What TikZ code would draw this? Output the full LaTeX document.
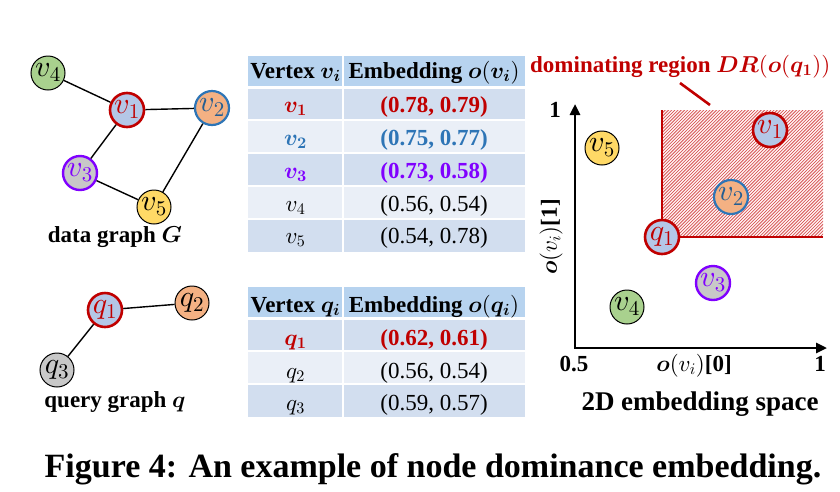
\documentclass[tikz,border=0pt]{standalone}
\usepackage{amsmath}
\usepackage[no-math]{fontspec}
\setmainfont{Liberation Serif}
\DeclareFontFamily{OML}{cmm}{\skewchar\font'177}
\DeclareFontShape{OML}{cmm}{m}{it}{<-> cmmi10}{}
\DeclareFontShape{OML}{cmm}{b}{it}{<-> cmmib10}{}
\DeclareFontShape{OT1}{cmr}{m}{n}{<-> cmr10}{}
\DeclareFontShape{OT1}{cmr}{bx}{n}{<-> cmbx10}{}
\usetikzlibrary{arrows.meta}
\definecolor{dred}{HTML}{C00000}
\definecolor{dblue}{HTML}{2E75B6}
\definecolor{dpurp}{HTML}{8000FF}
\definecolor{nblue}{HTML}{B4C7E7}
\definecolor{norange}{HTML}{F4B183}
\definecolor{ngrey}{HTML}{C8C8C8}
\definecolor{ngreen}{HTML}{A9D18E}
\definecolor{nyellow}{HTML}{FFD966}
\definecolor{thead}{HTML}{B7D3EF}
\definecolor{tdark}{HTML}{D2DEEF}
\definecolor{tlight}{HTML}{EAEFF7}
\tikzset{
  gnode/.style={circle, minimum size=34pt, inner sep=0pt, font=\fontsize{30}{30}\selectfont},
  plain/.style={draw=black, line width=1pt},
  redb/.style={draw=dred, line width=2.6pt, text=dred},
  blueb/.style={draw=dblue, line width=2.2pt, text=dblue!80!black},
  purpb/.style={draw=dpurp, line width=2.4pt, text=dpurp},
  edge/.style={draw=black, line width=1.4pt},
  tx/.style={anchor=base, inner sep=0pt, font=\fontsize{23}{26}\selectfont},
  axisline/.style={draw=black, line width=2.6pt, {Triangle[length=11pt,width=10pt]}-{Triangle[length=11pt,width=10pt]}},
  sep/.style={draw=white, line width=2pt}
}
\begin{document}
\begin{tikzpicture}[x=1pt,y=-1pt]
\useasboundingbox (0,0) rectangle (840,491);

% ---------- data graph G ----------
\node[gnode, plain, fill=ngreen] (v4) at (48,73) {$v_4$};
\node[gnode, redb, fill=nblue] (v1) at (127,110) {$v_1$};
\node[gnode, blueb, fill=norange] (v2) at (212,108) {$v_2$};
\node[gnode, purpb, fill=ngrey] (v3) at (80,173) {$v_3$};
\node[gnode, plain, fill=nyellow] (v5) at (154,207) {$v_5$};
\draw[edge] (v4) -- (v1);
\draw[edge] (v1) -- (v2);
\draw[edge] (v1) -- (v3);
\draw[edge] (v3) -- (v5);
\draw[edge] (v5) -- (v2);
\node[tx] (lG) at (115,242) {\textbf{data graph} $\boldsymbol{G}$};

% ---------- query graph q ----------
\node[gnode, redb, fill=nblue] (q1) at (105,310) {$q_1$};
\node[gnode, plain, fill=norange] (q2) at (192,303) {$q_2$};
\node[gnode, plain, fill=ngrey] (q3) at (57,370) {$q_3$};
\draw[edge] (q1) -- (q2);
\draw[edge] (q1) -- (q3);
\node[tx] (lq) at (115,407) {\textbf{query graph} $\boldsymbol{q}$};

% ---------- table 1 ----------
\fill[thead] (248,56) rectangle (525,87);
\fill[tdark] (248,87) rectangle (525,120);
\fill[tlight] (248,120) rectangle (525,153);
\fill[tdark] (248,153) rectangle (525,186);
\fill[tlight] (248,186) rectangle (525,219);
\fill[tdark] (248,219) rectangle (525,252);
\draw[sep, line width=3pt] (248,87) -- (525,87);
\foreach \yy in {120,153,186,219} \draw[sep] (248,\yy) -- (525,\yy);
\draw[sep] (343,56) -- (343,252);

\node[tx] (a0) at (295.5,78) {\textbf{Vertex} $\boldsymbol{v_i}$};
\node[tx] (b0) at (434,78) {\textbf{Embedding} $\boldsymbol{o}(\boldsymbol{v_i})$};
\node[tx, text=dred] (a1) at (295.5,112) {$\boldsymbol{v_1}$};
\node[tx, text=dred] (b1) at (434,112) {\textbf{(0.78, 0.79)}};
\node[tx, text=dblue] (a2) at (295.5,145) {$\boldsymbol{v_2}$};
\node[tx, text=dblue] (b2) at (434,145) {\textbf{(0.75, 0.77)}};
\node[tx, text=dpurp] (a3) at (295.5,178) {$\boldsymbol{v_3}$};
\node[tx, text=dpurp] (b3) at (434,178) {\textbf{(0.73, 0.58)}};
\node[tx] (a4) at (295.5,211) {$v_4$};
\node[tx] (b4) at (434,211) {(0.56, 0.54)};
\node[tx] (a5) at (295.5,243) {$v_5$};
\node[tx] (b5) at (434,243) {(0.54, 0.78)};

% ---------- table 2 ----------
\fill[thead] (248,287) rectangle (525,318);
\fill[tdark] (248,318) rectangle (525,351);
\fill[tlight] (248,351) rectangle (525,384);
\fill[tdark] (248,384) rectangle (525,417);
\draw[sep, line width=3pt] (248,318) -- (525,318);
\foreach \yy in {351,384} \draw[sep] (248,\yy) -- (525,\yy);
\draw[sep] (343,287) -- (343,417);

\node[tx] (c0) at (295.5,312) {\textbf{Vertex} $\boldsymbol{q_i}$};
\node[tx] (d0) at (434,312) {\textbf{Embedding} $\boldsymbol{o}(\boldsymbol{q_i})$};
\node[tx, text=dred] (c1) at (295.5,345) {$\boldsymbol{q_1}$};
\node[tx, text=dred] (d1) at (434,345) {\textbf{(0.62, 0.61)}};
\node[tx] (c2) at (295.5,378) {$q_2$};
\node[tx] (d2) at (434,378) {(0.56, 0.54)};
\node[tx] (c3) at (295.5,410) {$q_3$};
\node[tx] (d3) at (434,410) {(0.59, 0.57)};

% ---------- embedding space ----------
\begin{scope}
  \clip (662,110) rectangle (823,237);
  \fill[red!6] (662,110) rectangle (823,237);
  \foreach \i in {0,3.2,...,300}
    \draw[dred!75, line width=0.6pt] ({532+\i},237) -- ({659+\i},110);
\end{scope}
\draw[dred, line width=2.8pt] (662,110) -- (662,237) -- (823,237);

\coordinate (Ytop) at (575,104);
\coordinate (O) at (575,348);
\coordinate (Xend) at (827,348);
\draw[axisline] (Ytop) -- (O) -- (Xend);

\node[tx, text=dred, anchor=base west] (drl) at (530,72) {\textbf{dominating region} $\boldsymbol{DR}(\boldsymbol{o}(\boldsymbol{q_1}))$};
\coordinate (ld1) at (680,83);
\coordinate (ld2) at (710,105);
\draw[dred, line width=2.6pt] (ld1) -- (ld2);

\node[tx] (y1) at (555,117) {\textbf{1}};
\node[tx] (x05) at (574,371) {\textbf{0.5}};
\node[tx] (x1) at (820,371) {\textbf{1}};
\node[tx] (xl) at (694,371) {$\boldsymbol{o}(v_i)$\textbf{[0]}};
\node[inner sep=0pt, rotate=90, font=\fontsize{23}{26}\selectfont] (yl) at (551,237) {$\boldsymbol{o}(v_i)$\textbf{[1]}};
\node[tx, font=\fontsize{27}{30}\selectfont] (emb) at (700,410) {\textbf{2D embedding space}};

\node[gnode, plain, fill=nyellow] (p5) at (602,148) {$v_5$};
\node[gnode, redb, fill=nblue] (p1) at (770,130) {$v_1$};
\node[gnode, blueb, fill=norange] (p2) at (731,197) {$v_2$};
\node[gnode, redb, fill=nblue] (pq1) at (662,237) {$q_1$};
\node[gnode, purpb, fill=ngrey] (p3) at (713,283) {$v_3$};
\node[gnode, plain, fill=ngreen] (p4) at (627,307) {$v_4$};

% ---------- caption ----------
\node[tx, font=\fontsize{34}{38}\selectfont] (cap) at (433,477) {\textbf{Figure 4: An example of node dominance embedding.}};
\end{tikzpicture}
\end{document}
